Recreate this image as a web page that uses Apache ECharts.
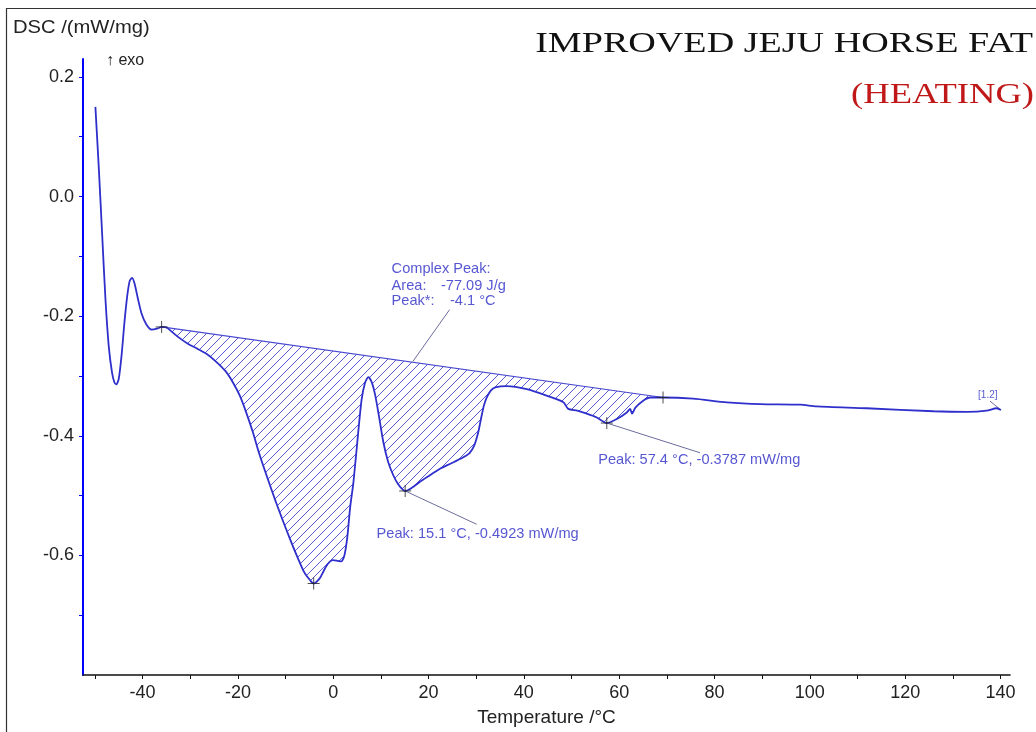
<!DOCTYPE html>
<html>
<head>
<meta charset="utf-8">
<script src="https://cdn.jsdelivr.net/npm/echarts@6/dist/echarts.min.js"></script>
<style>
html,body{margin:0;padding:0;background:#fff;}
#chart{width:1036px;height:732px;}
</style>
</head>
<body>
<div id="chart"></div>
<script>
// ---- data ----
const temps = [-49.9,-49.2,-48.5,-47.8,-47.1,-46.4,-45.9,-45.5,-45.0,-44.4,-43.8,-43.2,-42.7,-42.2,-41.7,-41.0,-40.2,-39.2,-38.1,-37.0,-36.0,
  -35.0,-34.0,-32.5,-30.5,-28.6,-26.6,-24.6,-22.6,-21.1,-19.6,-18.3,-16.9,-15.6,-14.0,-11.6,-9.1,-7.4,-6.1,-4.8,-4.1,
  -2.8,-2.0,-1.1,-0.1,0.9,1.7,2.35,2.95,3.55,4.25,5.25,5.95,6.65,7.35,8.05,8.75,9.55,10.5,11.5,12.6,13.7,14.6,15.1,
  16.5,18.2,20.3,22.4,24.8,27.3,28.6,29.6,30.4,31.0,31.6,32.2,33.1,34.0,36.4,40.6,44.8,48.3,49.3,51.2,53.2,55.2,57.4,
  59.5,61.6,62.3,62.7,63.4,65.1,66.5,69.2,75.5,82.6,89.6,98.0,101.4,111.9,126.0,133.0,137.1,139.2,140.1];
const dsc = [0.150,0.050,-0.060,-0.170,-0.250,-0.295,-0.311,-0.314,-0.305,-0.265,-0.210,-0.165,-0.141,-0.136,-0.145,-0.170,-0.196,-0.214,-0.2225,-0.221,-0.218,
  -0.219,-0.225,-0.235,-0.246,-0.254,-0.263,-0.276,-0.292,-0.310,-0.333,-0.360,-0.393,-0.428,-0.466,-0.520,-0.572,-0.605,-0.628,-0.642,-0.647,
  -0.638,-0.626,-0.614,-0.608,-0.609,-0.610,-0.600,-0.570,-0.520,-0.477,-0.394,-0.340,-0.312,-0.302,-0.310,-0.330,-0.365,-0.410,-0.443,-0.466,-0.482,-0.490,-0.4923,
  -0.487,-0.477,-0.466,-0.455,-0.446,-0.436,-0.429,-0.416,-0.395,-0.372,-0.350,-0.336,-0.324,-0.319,-0.317,-0.322,-0.333,-0.344,-0.355,-0.358,-0.363,-0.369,-0.3787,
  -0.372,-0.361,-0.355,-0.363,-0.353,-0.341,-0.336,-0.336,-0.338,-0.344,-0.347,-0.348,-0.351,-0.354,-0.359,-0.360,-0.358,-0.354,-0.357];

const baselineT = [-36.0, 69.2];
const baselineV = [-0.218, -0.336];

const markerT = [-36.0, -4.1, 15.1, 57.4, 69.2];
const markerV = [-0.218, -0.647, -0.4923, -0.3787, -0.336];

// annotation texts: [T, V, text]
const annoTexts = [
  [12.25, -0.1207, 'Complex Peak:'],
  [12.25, -0.149, 'Area:'],
  [22.6, -0.149, '-77.09 J/g'],
  [12.25, -0.1753, 'Peak*:'],
  [24.5, -0.1753, '-4.1 °C'],
  [9.1, -0.565, 'Peak: 15.1 °C, -0.4923 mW/mg'],
  [55.6, -0.4407, 'Peak: 57.4 °C, -0.3787 mW/mg']
];
const smallTexts = [[135.3, -0.3327, '[1.2]']];
// leader lines: [[T1,V1],[T2,V2]]
const leaders = [
  [[24.43, -0.189], [16.73, -0.2755]],
  [[15.1, -0.4923], [30.1, -0.548]],
  [[57.4, -0.3787], [76.96, -0.4284]],
  [[137.8, -0.342], [140.1, -0.357]]
];

const xTickValues = [-50,-40,-30,-20,-10,0,10,20,30,40,50,60,70,80,90,100,110,120,130,140];
const xLabelValues = [-40,-20,0,20,40,60,80,100,120,140];
const yTickValues = [-0.7,-0.6,-0.5,-0.4,-0.3,-0.2,-0.1,0,0.1,0.2];
const yLabelValues = [-0.6,-0.4,-0.2,0,0.2];

// ---- build ----
const curve = temps.map((t, i) => [t, dsc[i]]);
const region = curve.filter(p => p[0] >= baselineT[0] && p[0] <= baselineT[1]);

const cv = document.createElement('canvas');
cv.width = 9; cv.height = 9;
const cx = cv.getContext('2d');
cx.strokeStyle = '#5a5ad2';
cx.lineWidth = 1;
cx.beginPath();
cx.moveTo(0, 9); cx.lineTo(9, 0);
cx.moveTo(-1, 1); cx.lineTo(1, -1);
cx.moveTo(8, 10); cx.lineTo(10, 8);
cx.stroke();
const hatch = { image: cv, repeat: 'repeat' };

const chart = echarts.init(document.getElementById('chart'), null, { renderer: 'canvas' });

const leaderSeries = leaders.map(l => ({
  type: 'line', data: l, symbol: 'none', silent: true, z: 3,
  lineStyle: { color: '#6c6c9c', width: 1 }
}));

chart.setOption({
  animation: false,
  grid: { left: 83, right: 26, top: 59, bottom: 56 },
  xAxis: {
    type: 'value', min: -52.5, max: 142,
    name: 'Temperature /°C', nameLocation: 'middle', nameGap: 33,
    nameTextStyle: { fontFamily: 'Liberation Sans', fontSize: 19, color: '#222' },
    axisLine: { onZero: false, lineStyle: { color: '#111', width: 1.6 } },
    axisTick: { show: true, customValues: xTickValues, length: 4, lineStyle: { color: '#111', width: 1 } },
    axisLabel: { customValues: xLabelValues, fontFamily: 'Liberation Sans', fontSize: 18, color: '#222', margin: 9 },
    splitLine: { show: false }
  },
  yAxis: {
    type: 'value', min: -0.8, max: 0.23,
    axisLine: { show: true, onZero: false, lineStyle: { color: '#0000ff', width: 2 } },
    axisTick: { show: true, customValues: yTickValues, length: 4, lineStyle: { color: '#0000ff', width: 1 } },
    axisLabel: { customValues: yLabelValues, formatter: v => Number(v).toFixed(1),
      fontFamily: 'Liberation Sans', fontSize: 18, color: '#222', margin: 9 },
    splitLine: { show: false }
  },
  graphic: [
    { type: 'rect', shape: { x: 6.5, y: 8.5, width: 1100, height: 800 }, style: { fill: 'none', stroke: '#333', lineWidth: 1.2 }, silent: true },
    { type: 'text', x: 13, y: 28, scaleX: 1.12, style: { text: 'DSC /(mW/mg)', font: '18px "Liberation Sans"', fill: '#222', textVerticalAlign: 'middle' } },
    { type: 'text', x: 106, y: 61, style: { text: '↑ exo', font: '16px "Liberation Sans"', fill: '#222', textVerticalAlign: 'middle' } },
    { type: 'text', x: 1033, y: 44, scaleX: 1.27, style: { text: 'IMPROVED JEJU HORSE FAT', font: '30px "Liberation Serif"', fill: '#111', textAlign: 'right', textVerticalAlign: 'middle' } },
    { type: 'text', x: 1034, y: 95, scaleX: 1.22, style: { text: '(HEATING)', font: '30px "Liberation Serif"', fill: '#c01818', textAlign: 'right', textVerticalAlign: 'middle' } }
  ],
  series: [
    {
      type: 'custom', z: 1, silent: true,
      data: [[baselineT[0], baselineV[0]]],
      renderItem: function (params, api) {
        const pts = region.map(p => api.coord(p));
        return { type: 'polygon', shape: { points: pts }, style: { fill: hatch, stroke: 'none' } };
      }
    },
    {
      type: 'line', data: baselineT.map((t, i) => [t, baselineV[i]]), symbol: 'none', silent: true, z: 2,
      lineStyle: { color: '#4848d0', width: 1.2 }
    },
    {
      type: 'line', data: curve, symbol: 'none', smooth: 0.25, z: 4,
      lineStyle: { color: '#2f2fcc', width: 1.8 }
    },
    ...leaderSeries,
    {
      type: 'scatter', z: 6, silent: true,
      data: markerT.map((t, i) => [t, markerV[i]]),
      symbol: 'path://M0,6L12,6M6,0L6,12', symbolSize: 12,
      itemStyle: { color: 'none', borderColor: '#222', borderWidth: 1 }
    },
    {
      type: 'scatter', z: 7, silent: true, symbolSize: 0,
      data: annoTexts.map(a => ({ value: [a[0], a[1]], name: a[2] })),
      label: { show: true, position: 'right', distance: 0, formatter: p => p.name,
        fontFamily: 'Liberation Sans', fontSize: 14.6, color: '#2c2cc6' }
    },
    {
      type: 'scatter', z: 7, silent: true, symbolSize: 0,
      data: smallTexts.map(a => ({ value: [a[0], a[1]], name: a[2] })),
      label: { show: true, position: 'right', distance: 0, formatter: p => p.name,
        fontFamily: 'Liberation Sans', fontSize: 10, color: '#2c2cc6' }
    }
  ]
});
</script>
</body>
</html>
